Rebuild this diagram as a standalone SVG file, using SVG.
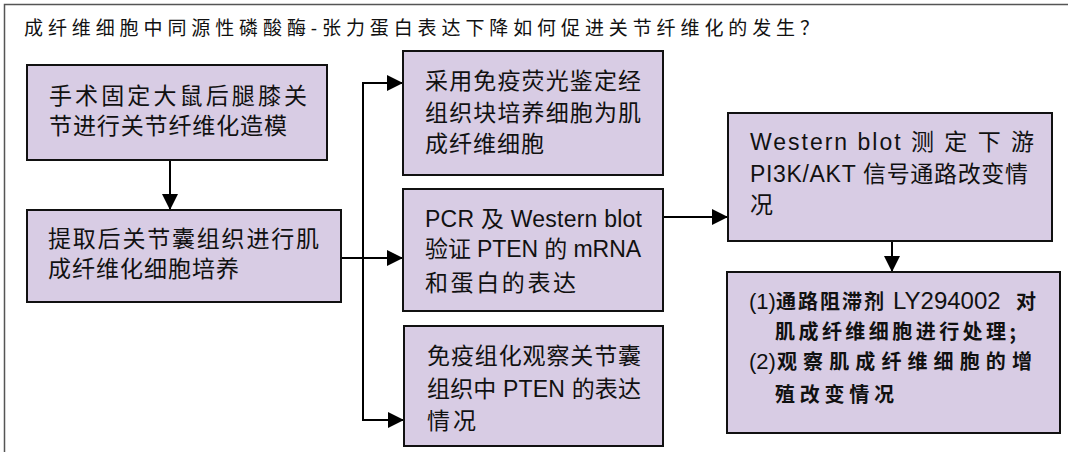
<svg xmlns="http://www.w3.org/2000/svg" width="1068" height="452" viewBox="0 0 1068 452">
<defs>
<style>
.frame{fill:none;stroke:#555;stroke-width:1.5}
.box{fill:#D8CCE4;stroke:#111;stroke-width:2}
.t{font-family:"Liberation Sans","Noto Sans CJK SC",sans-serif;font-size:23px;fill:#111}
.s{font-size:20px}
.title{font-family:"Liberation Sans","Noto Sans CJK SC",sans-serif;font-size:19px;fill:#111}
.b{font-family:"Noto Sans CJK SC",sans-serif;font-weight:700}
.l{font-family:"Liberation Sans",sans-serif;font-weight:400;font-size:22px}
.ln{fill:none;stroke:#000;stroke-width:2}
</style>
<marker id="arr" viewBox="0 0 16 16" refX="16" refY="8" markerWidth="16" markerHeight="16" markerUnits="userSpaceOnUse" orient="auto">
<path d="M0,0 L16,8 L0,16 Z" fill="#000"/>
</marker>
</defs>
<rect width="1068" height="452" fill="#fff"/>
<path class="frame" d="M4.5,452 V4.5 H1068"/>
<text class="title" x="24" y="35" textLength="795" lengthAdjust="spacing">成纤维细胞中同源性磷酸酶-张力蛋白表达下降如何促进关节纤维化的发生？</text>

<g id="connectors">
<path class="ln" d="M170,160 V210" marker-end="url(#arr)"/>
<path class="ln" d="M341,258 H403" marker-end="url(#arr)"/>
<path class="ln" d="M403,83 H363 V420 H404" marker-end="url(#arr)"/>
<path class="ln" d="M376,83 H403" marker-end="url(#arr)"/>
<path class="ln" d="M663,217 H728" marker-end="url(#arr)"/>
<path class="ln" d="M892,241 V272" marker-end="url(#arr)"/>
</g>

<g id="n1">
<rect class="box" x="27" y="65" width="300" height="95"/>
<text class="t" x="49" y="104" textLength="258" lengthAdjust="spacing">手术固定大鼠后腿膝关</text>
<text class="t" x="49" y="134" textLength="238" lengthAdjust="spacing">节进行关节纤维化造模</text>
</g>
<g id="n2">
<rect class="box" x="27" y="210" width="314" height="92"/>
<text class="t" x="48" y="247" textLength="271" lengthAdjust="spacing">提取后关节囊组织进行肌</text>
<text class="t" x="48" y="277" textLength="191" lengthAdjust="spacing">成纤维化细胞培养</text>
</g>
<g id="n3">
<rect class="box" x="403" y="51" width="260" height="124"/>
<text class="t" x="425" y="89" textLength="216" lengthAdjust="spacing">采用免疫荧光鉴定经</text>
<text class="t" x="425" y="121" textLength="216" lengthAdjust="spacing">组织块培养细胞为肌</text>
<text class="t" x="425" y="152" textLength="119" lengthAdjust="spacing">成纤维细胞</text>
</g>
<g id="n4">
<rect class="box" x="403" y="189" width="260" height="122"/>
<text class="t" x="425" y="227" textLength="217" lengthAdjust="spacing">PCR 及 Western blot</text>
<text class="t" x="425" y="257" textLength="216" lengthAdjust="spacing">验证 PTEN 的 mRNA</text>
<text class="t" x="425" y="291" textLength="151" lengthAdjust="spacing">和蛋白的表达</text>
</g>
<g id="n5">
<rect class="box" x="404" y="326" width="259" height="120"/>
<text class="t" x="427" y="364" textLength="214" lengthAdjust="spacing">免疫组化观察关节囊</text>
<text class="t" x="427" y="397" textLength="214" lengthAdjust="spacing">组织中 PTEN 的表达</text>
<text class="t" x="427" y="429" textLength="49" lengthAdjust="spacing">情况</text>
</g>
<g id="n6">
<rect class="box" x="728" y="113" width="324" height="128"/>
<text class="t" x="750" y="150" textLength="284" lengthAdjust="spacing">Western  blot  测 定 下 游</text>
<text class="t" x="750" y="182" textLength="278" lengthAdjust="spacing">PI3K/AKT 信号通路改变情</text>
<text class="t" x="750" y="213">况</text>
</g>
<g id="n7">
<rect class="box" x="727" y="272" width="333" height="161"/>
<text class="t s" y="309"><tspan class="l" x="749">(1)</tspan><tspan class="b" x="776" letter-spacing="2">通路阻滞剂</tspan><tspan class="l" x="893" style="font-size:24px">LY294002</tspan><tspan class="b" x="1016">对</tspan></text>
<text class="t s b" x="775" y="339" textLength="241" lengthAdjust="spacing">肌成纤维细胞进行处理;</text>
<text class="t s" y="369"><tspan class="l" x="749">(2)</tspan><tspan class="b" x="777" letter-spacing="6.1">观察肌成纤维细胞的增</tspan></text>
<text class="t s b" x="775" y="402" textLength="119" lengthAdjust="spacing">殖改变情况</text>
</g>
</svg>
